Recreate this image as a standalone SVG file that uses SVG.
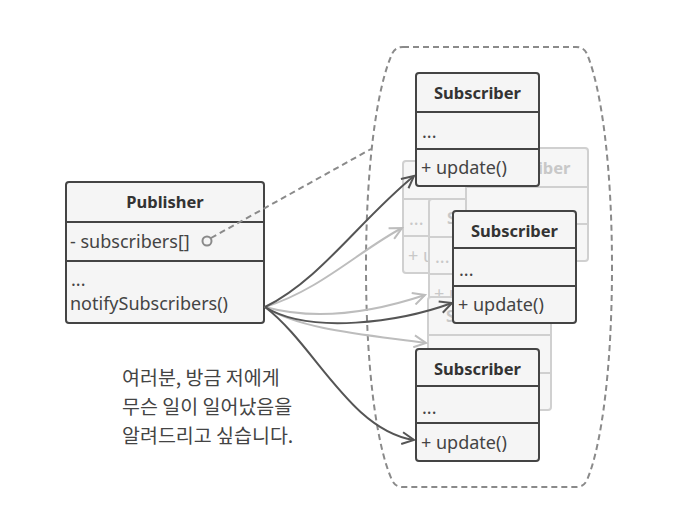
<svg xmlns="http://www.w3.org/2000/svg" width="678" height="510" viewBox="0 0 678 510">
<defs>
<style>
.box{fill:#f5f5f5;stroke:#444;stroke-width:2}
.div{stroke:#444;stroke-width:2}
.gbox{fill:#f6f6f6;stroke:#d0d0d0;stroke-width:2}
.gdiv{stroke:#d0d0d0;stroke-width:2}
.h{font-family:"Noto Sans","DejaVu Sans",sans-serif;font-weight:bold;font-size:16.5px;fill:#333;text-anchor:middle}
.t{font-family:"Noto Sans","DejaVu Sans",sans-serif;font-size:18px;fill:#444}
.gh{font-family:"Noto Sans","DejaVu Sans",sans-serif;font-weight:bold;font-size:16.5px;fill:#c8c8c8;text-anchor:middle}
.gt{font-family:"Noto Sans","DejaVu Sans",sans-serif;font-size:18px;fill:#c8c8c8}
.ko{font-family:"Noto Sans CJK KR","Noto Sans",sans-serif;font-size:19.5px;fill:#444}
.dash{fill:none;stroke:#8a8a8a;stroke-width:2;stroke-dasharray:6 4}
.arr{fill:none;stroke:#555;stroke-width:2;marker-end:url(#ah)}
.garr{fill:none;stroke:#bdbdbd;stroke-width:2;marker-end:url(#gah)}
</style>
<marker id="ah" markerUnits="userSpaceOnUse" markerWidth="16" markerHeight="14" refX="13" refY="7" orient="auto">
<path d="M1,1 L13,7 L1,13" fill="none" stroke="#555" stroke-width="2"/>
</marker>
<marker id="gah" markerUnits="userSpaceOnUse" markerWidth="16" markerHeight="14" refX="13" refY="7" orient="auto">
<path d="M1,1 L13,7 L1,13" fill="none" stroke="#bdbdbd" stroke-width="2"/>
</marker>
</defs>
<rect width="678" height="510" fill="#ffffff"/>

<g id="subscribers-group">
<path class="dash" d="M403,47 L576,47 Q584,47 587,54 C602,90 612,170 612,267 C612,365 602,445 587,480 Q584,487 576,487 L403,487 Q395,487 392,480 C376,445 366,365 366,267 C366,170 376,90 392,54 Q395,47 403,47 Z"/>
</g>

<g id="ghost2">
<rect class="gbox" x="403" y="161" width="123" height="112" rx="3"/>
<line class="gdiv" x1="403" y1="199" x2="526" y2="199"/>
<line class="gdiv" x1="403" y1="236" x2="526" y2="236"/>
<text class="gt" x="409" y="225">...</text>
<text class="gt" x="408" y="262">+ update()</text>
</g>
<g id="ghost3">
<rect class="gbox" x="429" y="199" width="123" height="112" rx="3"/>
<line class="gdiv" x1="429" y1="237" x2="552" y2="237"/>
<line class="gdiv" x1="429" y1="274" x2="552" y2="274"/>
<text class="gh" x="490.5" y="224">Subscriber</text>
<text class="gt" x="435" y="263">...</text>
<text class="gt" x="434" y="300">+ update()</text>
</g>
<g id="ghost4">
<rect class="gbox" x="428" y="297" width="123" height="113" rx="3"/>
<line class="gdiv" x1="428" y1="335" x2="551" y2="335"/>
<line class="gdiv" x1="428" y1="373" x2="551" y2="373"/>
<text class="gh" x="489.5" y="322">Subscriber</text>
</g>
<g id="ghost1">
<rect class="gbox" x="466" y="148" width="122" height="113" rx="3"/>
<line class="gdiv" x1="466" y1="187" x2="588" y2="187"/>
<line class="gdiv" x1="466" y1="224" x2="588" y2="224"/>
<text class="gh" x="527" y="174">Subscriber</text>
</g>

<g id="publisher">
<rect class="box" x="66" y="182" width="198" height="141" rx="3"/>
<line class="div" x1="66" y1="222" x2="264" y2="222"/>
<line class="div" x1="66" y1="261" x2="264" y2="261"/>
<text class="h" x="165" y="208">Publisher</text>
<text class="t" x="70" y="248">- subscribers[]</text>
<text class="t" x="71" y="286">...</text>
<text class="t" x="70" y="310">notifySubscribers()</text>
</g>

<g id="connectors">
<path class="dash" d="M211,238 L371,149"/>
<circle cx="207" cy="241" r="4.5" fill="none" stroke="#8a8a8a" stroke-width="2"/>
<path class="garr" d="M265,307 C320,290 360,250 402,228"/>
<path class="garr" d="M265,307 C320,322 380,310 425,295"/>
<path class="garr" d="M265,307 C300,330 370,335 426,343"/>
<path class="arr" d="M265,307 C320,280 360,220 414,176"/>
<path class="arr" d="M265,307 C310,335 400,322 452,303"/>
<path class="arr" d="M265,307 C315,345 350,430 414,440"/>
</g>

<g id="subscriber1">
<rect class="box" x="416" y="73" width="123" height="113" rx="3"/>
<line class="div" x1="416" y1="112" x2="539" y2="112"/>
<line class="div" x1="416" y1="149" x2="539" y2="149"/>
<text class="h" x="477.5" y="99">Subscriber</text>
<text class="t" x="422" y="138">...</text>
<text class="t" x="421" y="174">+ update()</text>
</g>
<g id="subscriber2">
<rect class="box" x="453" y="211" width="123" height="112" rx="3"/>
<line class="div" x1="453" y1="248" x2="576" y2="248"/>
<line class="div" x1="453" y1="286" x2="576" y2="286"/>
<text class="h" x="514.5" y="237">Subscriber</text>
<text class="t" x="459" y="276">...</text>
<text class="t" x="458" y="311">+ update()</text>
</g>
<g id="subscriber3">
<rect class="box" x="416" y="349" width="123" height="112" rx="3"/>
<line class="div" x1="416" y1="386" x2="539" y2="386"/>
<line class="div" x1="416" y1="423" x2="539" y2="423"/>
<text class="h" x="477.5" y="375">Subscriber</text>
<text class="t" x="422" y="414">...</text>
<text class="t" x="421" y="449">+ update()</text>
</g>

<g id="note">
<text class="ko" x="122" y="385">여러분, 방금 저에게</text>
<text class="ko" x="122" y="414">무슨 일이 일어났음을</text>
<text class="ko" x="122" y="443">알려드리고 싶습니다.</text>
</g>
</svg>
